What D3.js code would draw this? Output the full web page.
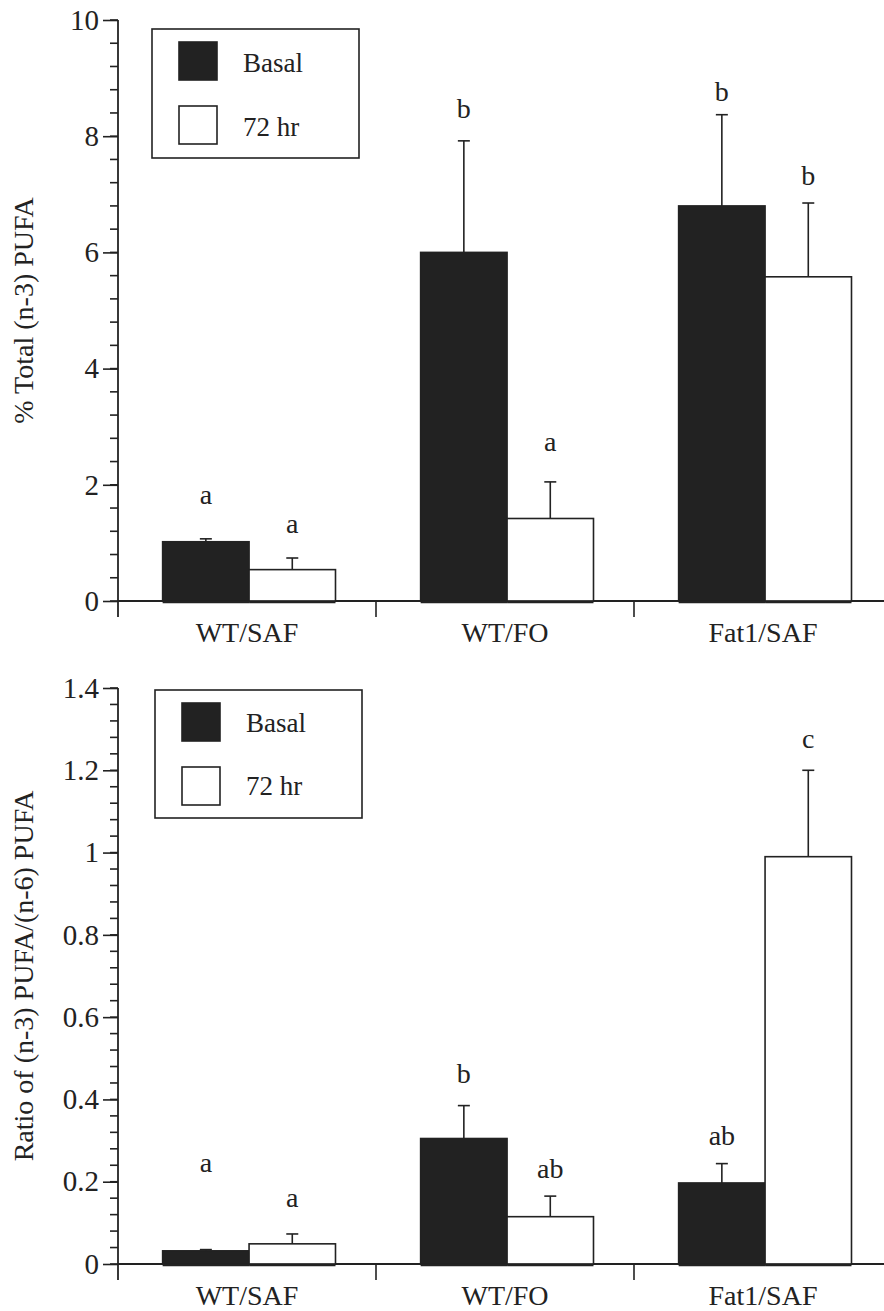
<!DOCTYPE html>
<html>
<head>
<meta charset="utf-8">
<script src="https://cdn.jsdelivr.net/npm/d3@7/dist/d3.min.js"></script>
</head>
<body style="margin:0;padding:0;background:#fff;font-family:'Liberation Serif',serif">
<svg id="chart" width="884" height="1311" style="display:block;font-family:'Liberation Serif',serif" font-family="Liberation Serif"></svg>
<script>
// ---------- data ----------
const categories = ["WT/SAF", "WT/FO", "Fat1/SAF"];
const seriesNames = ["Basal", "72 hr"];

// Panel A: % Total (n-3) PUFA
const totalBasal = [1.02, 6.0, 6.8];
const totalBasalSE = [0.05, 1.92, 1.57];
const total72 = [0.54, 1.42, 5.58];
const total72SE = [0.2, 0.63, 1.27];
const totalLetterBasal = ["a", "b", "b"];
const totalLetter72 = ["a", "a", "b"];
const totalLetterBasalAt = [1.67, 8.31, 8.61];
const totalLetter72At = [1.17, 2.58, 7.16];
const totalTicks = [0, 2, 4, 6, 8, 10];

// Panel B: Ratio of (n-3)/(n-6) PUFA
const ratioBasal = [0.032, 0.305, 0.197];
const ratioBasalSE = [0.003, 0.08, 0.047];
const ratio72 = [0.049, 0.115, 0.99];
const ratio72SE = [0.024, 0.05, 0.21];
const ratioLetterBasal = ["a", "b", "ab"];
const ratioLetter72 = ["a", "ab", "c"];
const ratioLetterBasalAt = [0.224, 0.44, 0.29];
const ratioLetter72At = [0.139, 0.21, 1.254];
const ratioTicks = [0, 0.2, 0.4, 0.6, 0.8, 1, 1.2, 1.4];

// ---------- drawing ----------
const svg = d3.select("#chart");
const INK = "#222";
const FILLS = { "Basal": "#222", "72 hr": "#fff" };

function styleText(sel, size) {
  sel.attr("font-family", null).attr("font-size", null)
    .attr("style", `font-family: Liberation Serif; font-size: ${size}px; fill: ${INK};`);
  return sel;
}

function panel(opts) {
  const g = svg.append("g");
  const y = d3.scaleLinear().domain([0, opts.max]).range([opts.y0, opts.y1]);
  const x0 = d3.scaleBand().domain(categories).range([118, 892]).padding(0);
  const bw = x0.bandwidth();
  const x1 = d3.scaleBand().domain(seriesNames).range([bw * 0.173, bw * 0.843]).padding(0);

  // minor ticks
  const minor = d3.range(0, opts.max + opts.minorStep / 2, opts.minorStep);
  g.append("g").selectAll("line").data(minor).join("line")
    .attr("x1", 110).attr("x2", 118)
    .attr("y1", d => y(d)).attr("y2", d => y(d))
    .attr("stroke", INK).attr("stroke-width", 1.6);

  // y axis (major)
  const yAxis = d3.axisLeft(y).tickValues(opts.ticks).tickSize(15).tickPadding(4)
    .tickFormat(d => String(+d.toFixed(2)));
  const ya = g.append("g").attr("transform", "translate(118,0)").call(yAxis)
    .attr("font-family", null).attr("font-size", null);
  ya.select(".domain").remove();
  ya.selectAll(".tick line").attr("stroke", INK).attr("stroke-width", 1.6);
  styleText(ya.selectAll(".tick text"), 29);
  g.append("line").attr("x1", 118).attr("x2", 118)
    .attr("y1", y(opts.max)).attr("y2", y(0) + 16)
    .attr("stroke", INK).attr("stroke-width", 1.8);

  // baseline
  g.append("line").attr("x1", 118).attr("x2", 884)
    .attr("y1", y(0)).attr("y2", y(0))
    .attr("stroke", INK).attr("stroke-width", 1.8);

  // category ticks and labels
  const xa = d3.axisBottom(x0).tickSize(0).tickPadding(0);
  const xg = g.append("g").attr("transform", `translate(0,${y(0)})`).call(xa)
    .attr("font-family", null).attr("font-size", null);
  xg.select(".domain").remove();
  styleText(xg.selectAll(".tick text"), 28).attr("dy", "1.45em");
  g.append("g").selectAll("line").data(categories.slice(1)).join("line")
    .attr("x1", d => x0(d)).attr("x2", d => x0(d))
    .attr("y1", y(0)).attr("y2", y(0) + 16)
    .attr("stroke", INK).attr("stroke-width", 1.6);

  // bars
  const rows = [];
  categories.forEach((c, i) => {
    rows.push({ c, s: "Basal", v: opts.basal[i], se: opts.basalSE[i], l: opts.letterBasal[i], la: opts.letterBasalAt[i] });
    rows.push({ c, s: "72 hr", v: opts.h72[i], se: opts.h72SE[i], l: opts.letter72[i], la: opts.letter72At[i] });
  });
  const bx = d => x0(d.c) + x1(d.s);
  const cx = d => bx(d) + x1.bandwidth() / 2;

  // error bars (upper only)
  g.append("g").selectAll("line").data(rows).join("line")
    .attr("x1", cx).attr("x2", cx)
    .attr("y1", d => y(d.v)).attr("y2", d => y(d.v + d.se))
    .attr("stroke", INK).attr("stroke-width", 1.6);
  g.append("g").selectAll("line").data(rows).join("line")
    .attr("x1", d => cx(d) - 6).attr("x2", d => cx(d) + 6)
    .attr("y1", d => y(d.v + d.se)).attr("y2", d => y(d.v + d.se))
    .attr("stroke", INK).attr("stroke-width", 1.6);

  g.append("g").selectAll("rect").data(rows).join("rect")
    .attr("x", bx).attr("width", x1.bandwidth())
    .attr("y", d => y(d.v)).attr("height", d => y(0) - y(d.v))
    .attr("fill", d => FILLS[d.s]).attr("stroke", INK).attr("stroke-width", 1.6);
  // thick bottom edge of bars
  g.append("g").selectAll("line").data(rows).join("line")
    .attr("x1", bx).attr("x2", d => bx(d) + x1.bandwidth())
    .attr("y1", y(0) + 1).attr("y2", y(0) + 1)
    .attr("stroke", INK).attr("stroke-width", 2.5);

  // letters
  styleText(g.append("g").selectAll("text").data(rows).join("text")
    .attr("x", cx).attr("y", d => y(d.la))
    .attr("text-anchor", "middle")
    .text(d => d.l), 28);

  // y title
  styleText(g.append("text")
    .attr("transform", `translate(${opts.titleX},${(y(0) + y(opts.max)) / 2}) rotate(-90)`)
    .attr("text-anchor", "middle")
    .text(opts.title), 28);

  // legend
  const L = opts.legend;
  const lg = g.append("g");
  lg.append("rect").attr("x", L.x).attr("y", L.y).attr("width", L.w).attr("height", L.h)
    .attr("fill", "#fff").attr("stroke", INK).attr("stroke-width", 1.6);
  seriesNames.forEach((s, i) => {
    lg.append("rect").attr("x", L.x + 27).attr("y", L.y + L.sy[i])
      .attr("width", 38).attr("height", 38)
      .attr("fill", FILLS[s]).attr("stroke", INK).attr("stroke-width", 1.6);
    styleText(lg.append("text").attr("x", L.x + 91).attr("y", L.y + L.ty[i]).text(s), 27);
  });
}

panel({
  max: 10, y0: 601, y1: 20, ticks: totalTicks, minorStep: 0.4,
  basal: totalBasal, basalSE: totalBasalSE, h72: total72, h72SE: total72SE,
  letterBasal: totalLetterBasal, letter72: totalLetter72,
  letterBasalAt: totalLetterBasalAt, letter72At: totalLetter72At,
  title: "% Total (n-3) PUFA", titleX: 33,
  legend: { x: 152, y: 29, w: 207, h: 129, sy: [13, 77], ty: [43, 107] }
});

panel({
  max: 1.4, y0: 1264, y1: 688, ticks: ratioTicks, minorStep: 0.04,
  basal: ratioBasal, basalSE: ratioBasalSE, h72: ratio72, h72SE: ratio72SE,
  letterBasal: ratioLetterBasal, letter72: ratioLetter72,
  letterBasalAt: ratioLetterBasalAt, letter72At: ratioLetter72At,
  title: "Ratio of (n-3) PUFA/(n-6) PUFA", titleX: 33,
  legend: { x: 155, y: 690, w: 207, h: 128, sy: [13, 77], ty: [42, 105] }
});
</script>
</body>
</html>
